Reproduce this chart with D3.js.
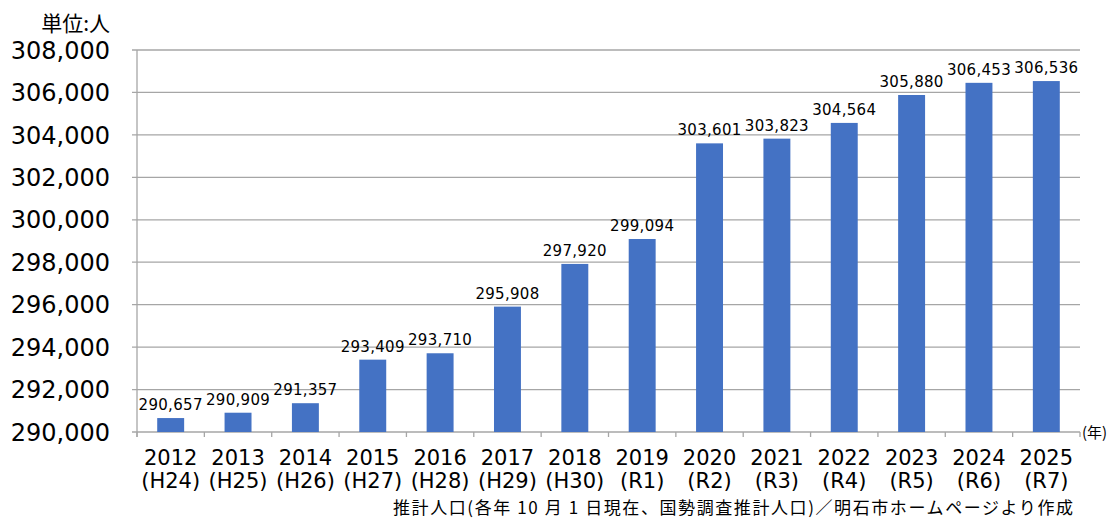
<!DOCTYPE html>
<html>
<head>
<meta charset="utf-8">
<script src="https://cdn.jsdelivr.net/npm/d3@7"></script>
<style>
body { margin: 0; background: #fff; }
text { font-family: "DejaVu Sans", "Noto Sans CJK JP", sans-serif; fill: #000; }
.cjk { font-family: "Noto Sans CJK JP", sans-serif; }
</style>
</head>
<body>
<div id="chart"></div>
<script>
const years = ["2012","2013","2014","2015","2016","2017","2018","2019","2020","2021","2022","2023","2024","2025"];
const eras = ["(H24)","(H25)","(H26)","(H27)","(H28)","(H29)","(H30)","(R1)","(R2)","(R3)","(R4)","(R5)","(R6)","(R7)"];
const population = [290657,290909,291357,293409,293710,295908,297920,299094,303601,303823,304564,305880,306453,306536];
const yTicks = [290000,292000,294000,296000,298000,300000,302000,304000,306000,308000];

const W = 1112, H = 519;
const margin = {t: 50, r: 32, b: 87, l: 137};

const svg = d3.select("#chart").append("svg")
	.attr("width", W)
	.attr("height", H);

const x = d3.scaleBand()
	.domain(years)
	.range([margin.l, W - margin.r])
	.paddingInner(0.6)
	.paddingOuter(0.3);

const y = d3.scaleLinear()
	.domain([290000, 308000])
	.range([H - margin.b, margin.t]);

const grey = "#a6a6a6";

// gridlines
svg.selectAll(".grid")
	.data(yTicks)
	.enter()
	.append("line")
	.attr("x1", margin.l - 5)
	.attr("x2", W - margin.r)
	.attr("y1", d => y(d))
	.attr("y2", d => y(d))
	.attr("stroke", grey)
	.attr("stroke-width", 1.3);

// y axis line
svg.append("line")
	.attr("x1", margin.l).attr("x2", margin.l)
	.attr("y1", y(308000)).attr("y2", y(290000) + 5)
	.attr("stroke", grey).attr("stroke-width", 1.3);

// y tick labels
svg.selectAll(".ylab")
	.data(yTicks)
	.enter()
	.append("text")
	.attr("x", margin.l - 27)
	.attr("y", d => y(d))
	.attr("dy", "0.36em")
	.attr("text-anchor", "end")
	.attr("font-size", 24)
	.text(d => d3.format(",")(d));

// x tick marks at band edges
const edges = d3.range(years.length + 1).map(i => margin.l + (x.range()[1] - margin.l) * i / years.length);
svg.selectAll(".xtick")
	.data(edges)
	.enter()
	.append("line")
	.attr("x1", d => d).attr("x2", d => d)
	.attr("y1", y(290000)).attr("y2", y(290000) + 5)
	.attr("stroke", grey).attr("stroke-width", 1.3);

// bars
svg.selectAll(".bar")
	.data(population)
	.enter()
	.append("rect")
	.attr("x", (d, i) => x(years[i]))
	.attr("width", x.bandwidth())
	.attr("y", d => y(d))
	.attr("height", d => y(290000) - y(d))
	.attr("fill", "#4472c4");

// value labels
svg.selectAll(".val")
	.data(population)
	.enter()
	.append("text")
	.attr("x", (d, i) => x(years[i]) + x.bandwidth() / 2)
	.attr("y", d => y(d) - 8)
	.attr("text-anchor", "middle")
	.attr("font-size", 15)
	.attr("letter-spacing", 0.3)
	.text(d => d3.format(",")(d));

// x labels
svg.selectAll(".xyear")
	.data(years)
	.enter()
	.append("text")
	.attr("x", d => x(d) + x.bandwidth() / 2)
	.attr("y", 465)
	.attr("text-anchor", "middle")
	.attr("font-size", 21)
	.text(d => d);

svg.selectAll(".xera")
	.data(eras)
	.enter()
	.append("text")
	.attr("x", (d, i) => x(years[i]) + x.bandwidth() / 2)
	.attr("y", 488)
	.attr("text-anchor", "middle")
	.attr("font-size", 21)
	.text(d => d);

svg.append("text")
	.attr("class", "cjk")
	.attr("x", 110).attr("y", 31)
	.attr("text-anchor", "end")
	.attr("font-size", 21)
	.text("単位:人");

svg.append("text")
	.attr("class", "cjk")
	.attr("x", 1082).attr("y", 438)
	.attr("font-size", 15)
	.text("(年)");

svg.append("text")
	.attr("class", "cjk")
	.attr("x", 393).attr("y", 514)
	.attr("font-size", 17)
	.attr("textLength", 680)
	.attr("lengthAdjust", "spacing")
	.text("推計人口(各年 10 月 1 日現在、国勢調査推計人口)／明石市ホームページより作成");
</script>
</body>
</html>
